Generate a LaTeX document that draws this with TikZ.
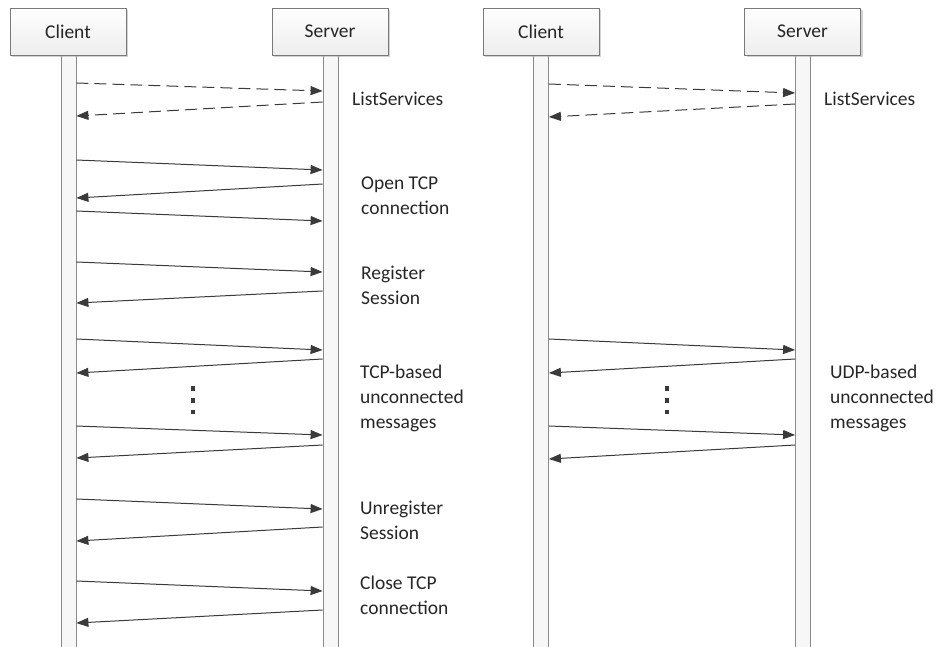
\documentclass[tikz,border=0pt]{standalone}
\usepackage{fontspec}
\setmainfont{Carlito}
\usetikzlibrary{arrows.meta,shadows}
\definecolor{linec}{HTML}{3A3A3A}
\definecolor{boxc}{HTML}{7A7A7A}
\definecolor{barc}{HTML}{8A8A8A}
\definecolor{barfill}{HTML}{F7F7F7}
\definecolor{txt}{HTML}{262626}
\begin{document}
\begin{tikzpicture}[x=1pt,y=-1pt,
  actor/.style={draw=boxc, line width=0.8pt, top color=white, bottom color=black!7,
    minimum width=116pt, minimum height=47pt, inner sep=0pt,
    font=\fontsize{19.5}{24}\selectfont, text=txt,
    drop shadow={shadow xshift=2pt, shadow yshift=-2pt, fill=black!35, opacity=.5}},
  life/.style={draw=barc, line width=0.8pt, fill=barfill, minimum width=15pt,
    minimum height=640pt, inner sep=0pt, anchor=north},
  msg/.style={draw=linec, line width=1pt, -{Triangle[length=12pt,width=9pt]}},
  reply/.style={msg, dash pattern=on 12pt off 6pt},
  lbl/.style={anchor=north west, inner sep=0pt, align=left,
    font=\fontsize{19.5}{25}\selectfont, text=txt},
  vdots/.style={draw=linec, line width=3.2pt, dash pattern=on 5pt off 7pt}
]
\useasboundingbox (0,0) rectangle (936,646);
\clip (0,0) rectangle (936,646);

% lifelines
\node[life] (lc1) at (68.5,55) {};
\node[life] (ls1) at (330.5,55) {};
\node[life] (lc2) at (541,55) {};
\node[life] (ls2) at (803,55) {};

% actor boxes
\node[actor] (c1) at (68,31.5) {Client};
\node[actor] (s1) at (330,31.5) {Server};
\node[actor] (c2) at (541,31.5) {Client};
\node[actor] (s2) at (802.5,31.5) {Server};

% left diagram
\draw[reply] (lc1.east |- 0,83) -- (ls1.west |- 0,91);
\draw[reply] (ls1.west |- 0,102) -- (lc1.east |- 0,116);
\draw[msg] (lc1.east |- 0,160) -- (ls1.west |- 0,170);
\draw[msg] (ls1.west |- 0,184) -- (lc1.east |- 0,198);
\draw[msg] (lc1.east |- 0,211) -- (ls1.west |- 0,221);
\draw[msg] (lc1.east |- 0,262) -- (ls1.west |- 0,272);
\draw[msg] (ls1.west |- 0,291) -- (lc1.east |- 0,303);
\draw[msg] (lc1.east |- 0,339) -- (ls1.west |- 0,350);
\draw[msg] (ls1.west |- 0,359) -- (lc1.east |- 0,373);
\draw[msg] (lc1.east |- 0,426) -- (ls1.west |- 0,435);
\draw[msg] (ls1.west |- 0,445) -- (lc1.east |- 0,458);
\draw[msg] (lc1.east |- 0,499) -- (ls1.west |- 0,509);
\draw[msg] (ls1.west |- 0,527) -- (lc1.east |- 0,541);
\draw[msg] (lc1.east |- 0,581) -- (ls1.west |- 0,591);
\draw[msg] (ls1.west |- 0,610) -- (lc1.east |- 0,623);
\draw[vdots] (193,386) -- (193,414);

% right diagram
\draw[reply] (lc2.east |- 0,84) -- (ls2.west |- 0,93);
\draw[reply] (ls2.west |- 0,104) -- (lc2.east |- 0,117);
\draw[msg] (lc2.east |- 0,339) -- (ls2.west |- 0,350);
\draw[msg] (ls2.west |- 0,359) -- (lc2.east |- 0,373);
\draw[msg] (lc2.east |- 0,426) -- (ls2.west |- 0,435);
\draw[msg] (ls2.west |- 0,445) -- (lc2.east |- 0,459);
\draw[vdots] (667,386) -- (667,414);

% labels
\node[lbl] (t1) at (352,92) {ListServices};
\node[lbl] (t2) at (361,177) {Open TCP\\connection};
\node[lbl] (t3) at (361,266) {Register\\Session};
\node[lbl] (t4) at (360,365) {TCP-based\\unconnected\\messages};
\node[lbl] (t5) at (360,501) {Unregister\\Session};
\node[lbl] (t6) at (360,576) {Close TCP\\connection};
\node[lbl] (t7) at (824,92) {ListServices};
\node[lbl] (t8) at (830,365) {UDP-based\\unconnected\\messages};
\end{tikzpicture}
\end{document}
